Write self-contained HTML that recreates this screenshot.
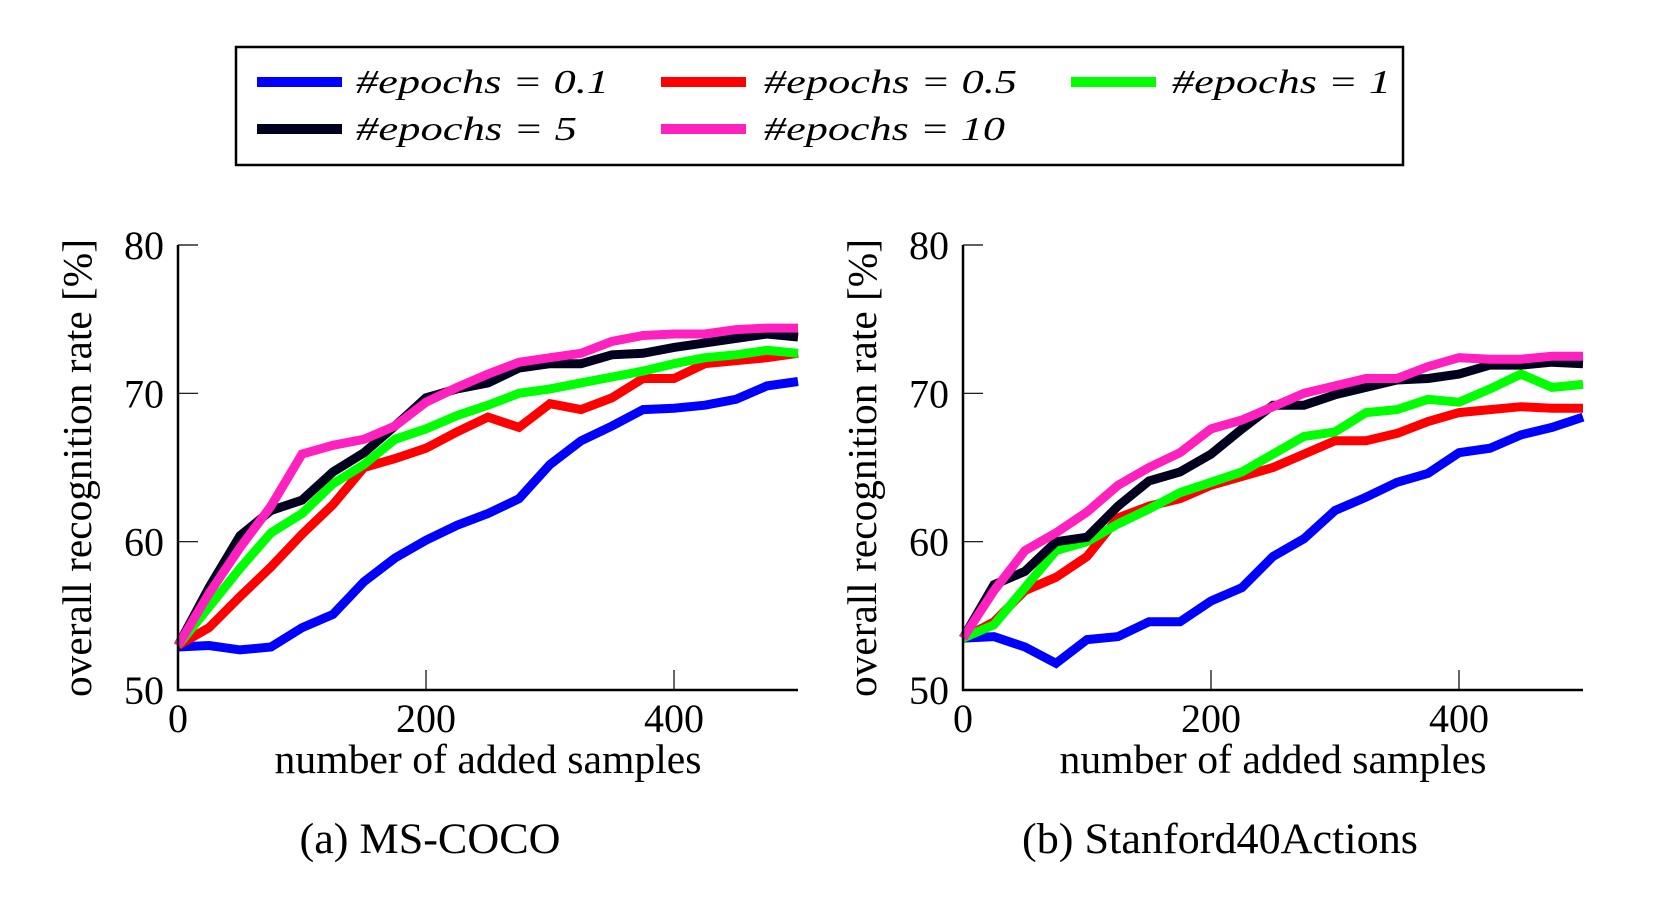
<!DOCTYPE html>
<html><head><meta charset="utf-8"><style>
html,body{margin:0;padding:0;background:#fff;}
svg{display:block;}
text{font-family:"Liberation Serif","DejaVu Serif",serif;}
</style></head><body>
<svg id="fig" width="1675" height="897" viewBox="0 0 1675 897" xmlns="http://www.w3.org/2000/svg" font-family="Liberation Serif, serif">
<g>
<rect x="236" y="47" width="1167" height="118" fill="#fff" stroke="#000" stroke-width="2.5"/>
<g id="legendItems"></g>
</g>
<g id="chartA"></g>
<g id="chartB"></g>
<text x="430" y="853" font-size="43" text-anchor="middle" textLength="261" lengthAdjust="spacingAndGlyphs" font-family="Liberation Serif, serif">(a) MS-COCO</text>
<text x="1220" y="853" font-size="43" text-anchor="middle" textLength="396" lengthAdjust="spacingAndGlyphs" font-family="Liberation Serif, serif">(b) Stanford40Actions</text>
</svg>
<script>
const xValues = [0,25,50,75,100,125,150,175,200,225,250,275,300,325,350,375,400,425,450,475,500];
const seriesNames = ["#epochs = 0.1","#epochs = 0.5","#epochs = 1","#epochs = 5","#epochs = 10"];
const seriesColors = ["#0000ff","#ff0000","#00ff00","#00001e","#ff20c0"];
const cocoE01 = [52.9,53.0,52.7,52.9,54.2,55.1,57.3,58.9,60.1,61.1,61.9,62.9,65.2,66.8,67.8,68.9,69.0,69.2,69.6,70.5,70.8];
const cocoE05 = [53.0,54.2,56.3,58.3,60.5,62.5,65.0,65.6,66.3,67.4,68.4,67.7,69.3,68.9,69.7,71.0,71.0,72.0,72.2,72.4,72.7];
const cocoE1  = [53.0,55.6,58.2,60.6,61.9,63.9,65.2,66.9,67.6,68.5,69.2,70.0,70.3,70.7,71.1,71.5,72.0,72.4,72.6,72.9,72.7];
const cocoE5  = [53.0,56.9,60.4,62.1,62.8,64.7,66.0,67.8,69.7,70.3,70.7,71.7,72.0,72.0,72.6,72.7,73.1,73.4,73.7,74.0,73.8];
const cocoE10 = [53.0,56.5,59.6,62.4,65.9,66.5,66.9,67.8,69.4,70.4,71.3,72.1,72.4,72.7,73.5,73.9,74.0,74.0,74.3,74.4,74.4];
const stanE01 = [53.5,53.6,52.9,51.8,53.4,53.6,54.6,54.6,56.0,56.9,59.0,60.2,62.1,63.0,64.0,64.6,66.0,66.3,67.2,67.7,68.4];
const stanE05 = [53.5,54.6,56.7,57.6,59.0,61.6,62.4,62.9,63.8,64.4,65.0,65.9,66.8,66.8,67.3,68.1,68.7,68.9,69.1,69.0,69.0];
const stanE1  = [53.5,54.4,56.9,59.4,60.0,61.2,62.2,63.3,64.0,64.7,65.9,67.1,67.4,68.7,68.9,69.6,69.4,70.3,71.3,70.4,70.6];
const stanE5  = [53.5,57.1,58.0,60.0,60.3,62.4,64.1,64.7,65.9,67.6,69.2,69.2,69.9,70.4,70.9,71.0,71.3,71.9,71.9,72.1,72.0];
const stanE10 = [53.5,56.7,59.4,60.6,62.0,63.8,65.0,66.0,67.6,68.2,69.1,70.0,70.5,71.0,71.0,71.8,72.4,72.3,72.3,72.5,72.5];
const yTicks = [50,60,70,80];
const xTicks = [0,200,400];

const NS="http://www.w3.org/2000/svg";
const FF="Liberation Serif, serif";
function mk(tag, attrs, parent){const e=document.createElementNS(NS,tag);for(const k in attrs)e.setAttribute(k,attrs[k]);parent.appendChild(e);return e;}

// legend
const lg=document.getElementById('legendItems');
const legPos=[[257,82,356,253],[661,82,764,253],[1071,82,1172,219],[257,129,356,221],[661,129,764,241]];
seriesNames.forEach((n,i)=>{
  const [lx,ly,tx0,tl]=legPos[i];
  const ln=mk('line',{x1:lx,y1:ly,x2:lx+85,y2:ly,stroke:seriesColors[i],'stroke-width':10},lg);
  
  
  const t=mk('text',{x:tx0,y:ly+11,'font-size':34,'font-style':'italic','font-family':FF,textLength:tl,lengthAdjust:'spacingAndGlyphs'},lg);
  t.textContent=n;
  
  
});

function drawChart(g, x0, series){
  const y0=690, y1=245, w=620;
  const xs=v=>x0+v/500*w;
  const ys=v=>y0-(v-50)/30*(y0-y1);
  yTicks.forEach(t=>{
    const tl=mk('line',{x1:x0,y1:ys(t),x2:x0+20,y2:ys(t),stroke:'#000','stroke-width':1.2},g);
    
    
    const tx=mk('text',{x:x0-14,y:ys(t)+14,'font-size':40,'text-anchor':'end','font-family':FF},g);
    tx.textContent=t;
    
    
  });
  xTicks.forEach(t=>{
    const tl=mk('line',{x1:xs(t),y1:y0,x2:xs(t),y2:y0-20,stroke:'#000','stroke-width':1.2},g);
    
    
    const tx=mk('text',{x:xs(t),y:y0+42,'font-size':40,'text-anchor':'middle','font-family':FF},g);
    tx.textContent=t;
    
    
  });
  series.forEach((s,i)=>{
    const d=s.map((v,j)=>(j?'L':'M')+xs(xValues[j]).toFixed(1)+' '+ys(v).toFixed(1)).join(' ');
    const p=mk('path',{d:d,fill:'none',stroke:seriesColors[i],'stroke-width':9,'stroke-linejoin':'miter'},g);
    
    
  });
  const ax=mk('path',{d:`M${x0} ${y1} L${x0} ${y0} L${x0+w} ${y0}`,fill:'none',stroke:'#000','stroke-width':2.5},g);
  
  
  const xl=mk('text',{x:x0+w/2,y:773,'font-size':41,'text-anchor':'middle','font-family':FF,textLength:427,lengthAdjust:'spacingAndGlyphs'},g);
  xl.textContent='number of added samples';
  
  
  const yl=mk('text',{x:0,y:0,'font-size':41,'text-anchor':'middle','font-family':FF,textLength:458,lengthAdjust:'spacingAndGlyphs',transform:`translate(${x0-87},468) rotate(-90)`},g);
  yl.textContent='overall recognition rate [%]';
  
  
}
drawChart(document.getElementById('chartA'),178,[cocoE01,cocoE05,cocoE1,cocoE5,cocoE10]);
drawChart(document.getElementById('chartB'),963,[stanE01,stanE05,stanE1,stanE5,stanE10]);
</script>
</body></html>
